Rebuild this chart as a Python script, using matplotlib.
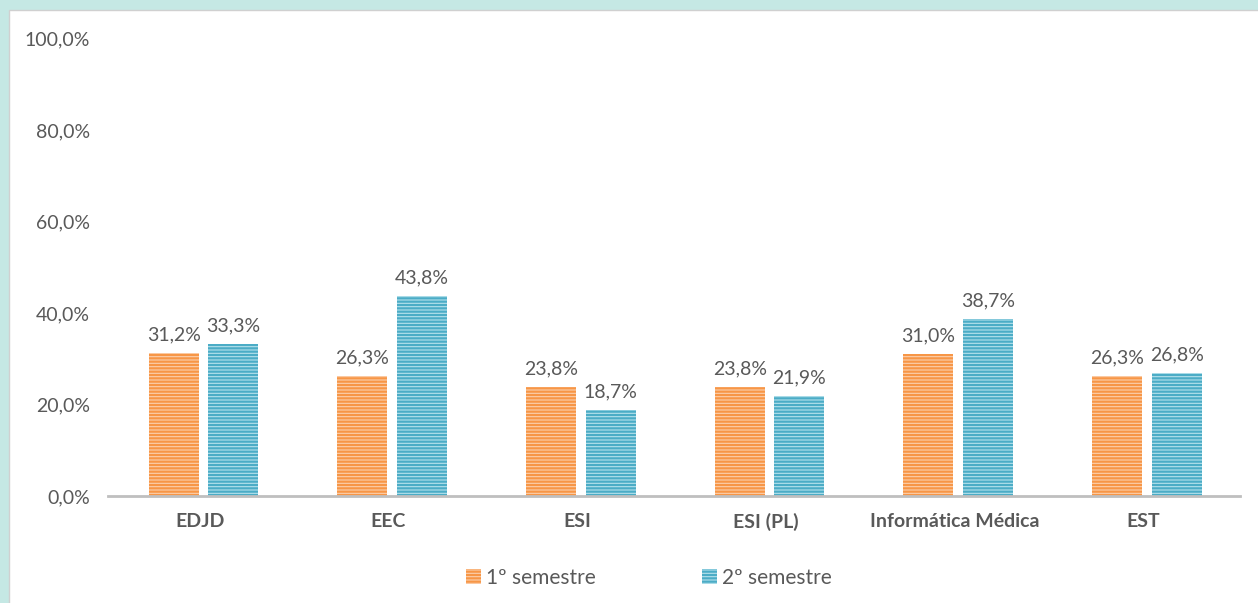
import matplotlib.pyplot as plt
import matplotlib as mpl
from matplotlib.patches import Rectangle
import numpy as np

# data
categories = ["EDJD", "EEC", "ESI", "ESI (PL)", "Informática Médica", "EST"]
sem1 = [31.2, 26.3, 23.8, 23.8, 31.0, 26.3]
sem2 = [33.3, 43.8, 18.7, 21.9, 38.7, 26.8]
series_names = ["1º semestre", "2º semestre"]
yticks = [0, 20, 40, 60, 80, 100]

TEXT = "#595959"
plt.rcParams['font.family'] = ['Lato', 'DejaVu Sans']
plt.rcParams['hatch.linewidth'] = 1.6

fig = plt.figure(figsize=(12.58, 6.03), dpi=100)
fig.patch.set_facecolor("#c5e8e4")
# white chart area with thin grey border (left/top)
fig.patches.append(Rectangle((9 / 1258, -0.01), 1.02, (603 - 10) / 603 + 0.01,
                             transform=fig.transFigure, facecolor="white",
                             edgecolor="#d0d0d0", linewidth=1, zorder=-5))

ax = fig.add_axes([0.0859, 0.1774, 0.8998, 0.7586])
ax.set_facecolor("none")
ax.set_zorder(2)

x = np.arange(len(categories))
w = 0.265
off = 0.158
b1 = ax.bar(x - off, sem1, w, facecolor="#fcd0ad", edgecolor="#f79646",
            linewidth=0, hatch="-----", label=series_names[0])
b2 = ax.bar(x + off, sem2, w, facecolor="#b5e1ec", edgecolor="#4bacc6",
            linewidth=0, hatch="-----", label=series_names[1])

for bars, vals in ((b1, sem1), (b2, sem2)):
    for r, v in zip(bars, vals):
        ax.annotate(f"{v:.1f}%".replace(".", ","),
                    (r.get_x() + r.get_width() / 2, v),
                    xytext=(0, 7), textcoords="offset points",
                    ha="center", va="bottom", fontsize=14, color=TEXT)

ax.set_xlim(-0.5 - 0.006, len(categories) - 0.5 - 0.006)
ax.set_ylim(0, 100)
ax.set_yticks(yticks)
ax.set_yticklabels([f"{t:.1f}%".replace(".", ",") for t in yticks],
                   fontsize=14, color=TEXT)
ax.set_xticks(x - 0.02)
ax.set_xticklabels(categories, fontsize=14, fontweight="bold", color=TEXT)
ax.tick_params(axis="both", length=0)
ax.tick_params(axis="x", pad=12)
ax.tick_params(axis="y", pad=13)
for s in ("left", "right", "top"):
    ax.spines[s].set_visible(False)
ax.spines["bottom"].set_color("#bfbfbf")
ax.spines["bottom"].set_linewidth(2)

leg = fig.legend(handles=[b1, b2], labels=series_names, loc="center",
                 bbox_to_anchor=(0.516, 0.042), ncol=2, frameon=False,
                 fontsize=15, handlelength=0.7, handleheight=0.7,
                 handletextpad=0.25, columnspacing=5.1)
for t in leg.get_texts():
    t.set_color(TEXT)

fig.savefig("out.png", dpi=100, facecolor=fig.get_facecolor())
